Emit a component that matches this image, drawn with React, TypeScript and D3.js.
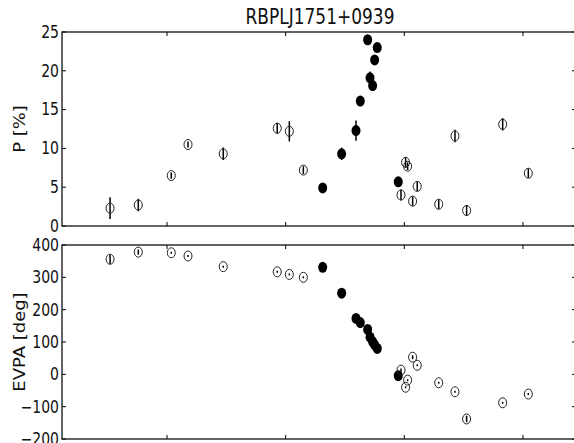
import * as d3 from 'd3'

// epochs (arbitrary units, ticks at 100..400, unlabelled)
const epoch = [
  52.0, 75.8, 103.6, 117.7, 147.4, 192.9, 203.1, 214.9, 231.2, 247.2, 259.3, 262.9, 269.1, 271.1,
  273.3, 275.0, 277.2, 294.9, 297.2, 301.1, 302.8, 307.0, 310.9, 329.0, 342.7, 352.5, 382.9, 404.5,
]
const polPct = [
  2.3, 2.7, 6.5, 10.5, 9.3, 12.6, 12.2, 7.2, 4.9, 9.3, 12.3, 16.1, 24.0, 19.1,
  18.1, 21.4, 23.0, 5.7, 4.0, 8.2, 7.7, 3.2, 5.1, 2.8, 11.6, 2.0, 13.1, 6.8,
]
const polErr = [
  1.4, 0.8, 0.4, 0.4, 0.8, 0.7, 1.3, 0.5, 0.3, 0.8, 1.3, 0.5, 0.3, 0.8,
  0.5, 0.3, 0.3, 0.4, 0.7, 0.7, 0.5, 0.6, 0.6, 0.6, 0.8, 0.7, 0.8, 0.6,
]
const evpa = [
  356, 378, 376, 366, 333, 317, 309, 300, 331, 251, 173, 160, 139, 115,
  101, 91, 80, -4, 13, -40, -18, 53, 28, -26, -54, -138, -88, -61,
]
const evpaErr = [
  15, 8, 3, 3, 3, 3, 3, 3, 3, 3, 3, 3, 3, 3,
  3, 3, 3, 3, 5, 3, 3, 6, 3, 3, 3, 10, 3, 3,
]
// filled = points inside the rotation episode
const filled = [
  false, false, false, false, false, false, false, false, true, true, true, true, true, true,
  true, true, true, true, false, false, false, false, false, false, false, false, false, false,
]
const xTicks = [100, 200, 300, 400]
const pTicks = [0, 5, 10, 15, 20, 25]
const evpaTicks = [-200, -100, 0, 100, 200, 300, 400]

const W = 574
const H = 443
const LEFT = 62
const RIGHT = 576
const SY = 1.2 // picture is stretched vertically
const FONT = 'DejaVu Sans, sans-serif'

function Panel({
  top,
  bottom,
  domain,
  ticks,
  values,
  errors,
  label,
}: {
  top: number
  bottom: number
  domain: [number, number]
  ticks: number[]
  values: number[]
  errors: number[]
  label: string
}) {
  const x = d3.scaleLinear().domain([11.5, 444.7]).range([LEFT, RIGHT])
  const y = d3.scaleLinear().domain(domain).range([bottom, top])
  const fmt = d3.format('d')
  const tl = 4
  return (
    <g>
      <defs>
        <clipPath id={`clip-${top}`}>
          <rect x={LEFT} y={top} width={RIGHT - LEFT} height={bottom - top} />
        </clipPath>
      </defs>
      <g clipPath={`url(#clip-${top})`}>
        {epoch.map((e, i) => (
          <line
            key={'e' + i}
            x1={x(e)}
            x2={x(e)}
            y1={y(values[i] - errors[i])}
            y2={y(values[i] + errors[i])}
            stroke="#000"
            strokeWidth={1.5}
          />
        ))}
        {epoch.map((e, i) =>
          filled[i] ? (
            <ellipse key={'m' + i} cx={x(e)} cy={y(values[i])} rx={4.5} ry={5.5} fill="#000" />
          ) : (
            <ellipse
              key={'m' + i}
              cx={x(e)}
              cy={y(values[i])}
              rx={4}
              ry={5}
              fill="none"
              stroke="#222"
              strokeWidth={1}
            />
          )
        )}
      </g>
      {ticks.map((t) => (
        <g key={'yt' + t}>
          <line x1={LEFT} x2={LEFT + tl} y1={y(t)} y2={y(t)} stroke="#000" strokeWidth={1} />
          <line x1={RIGHT - tl} x2={RIGHT} y1={y(t)} y2={y(t)} stroke="#000" strokeWidth={1} />
          <text
            transform={`translate(59,${y(t)}) scale(1,${SY})`}
            dy="0.35em"
            textAnchor="end"
            fontSize={14}
            fontFamily={FONT}
            fill="#111"
          >
            {fmt(t)}
          </text>
        </g>
      ))}
      {xTicks.map((t) => (
        <g key={'xt' + t}>
          <line x1={x(t)} x2={x(t)} y1={top} y2={top + tl} stroke="#000" strokeWidth={1} />
          <line x1={x(t)} x2={x(t)} y1={bottom - tl} y2={bottom} stroke="#000" strokeWidth={1} />
        </g>
      ))}
      <rect
        x={LEFT}
        y={top}
        width={RIGHT - LEFT}
        height={bottom - top}
        fill="none"
        stroke="#111"
        strokeWidth={1.3}
      />
      <text
        transform={`translate(25,${(top + bottom) / 2}) scale(1,${SY}) rotate(-90)`}
        textAnchor="middle"
        fontSize={15}
        fontFamily={FONT}
        fill="#111"
      >
        {label}
      </text>
    </g>
  )
}

export default function App() {
  return (
    <svg
      width={W}
      height={H}
      style={{ position: 'absolute', left: 0, top: 0, background: '#fff' }}
    >
      <rect width={W} height={H} fill="#fff" />
      <text
        transform={`translate(320,24) scale(1,${SY})`}
        textAnchor="middle"
        fontSize={17}
        fontFamily={FONT}
        fill="#111"
      >
        RBPLJ1751+0939
      </text>
      <Panel
        top={32}
        bottom={226}
        domain={[0, 25]}
        ticks={pTicks}
        values={polPct}
        errors={polErr}
        label="P [%]"
      />
      <Panel
        top={245}
        bottom={439}
        domain={[-200, 400]}
        ticks={evpaTicks}
        values={evpa}
        errors={evpaErr}
        label="EVPA [deg]"
      />
    </svg>
  )
}
